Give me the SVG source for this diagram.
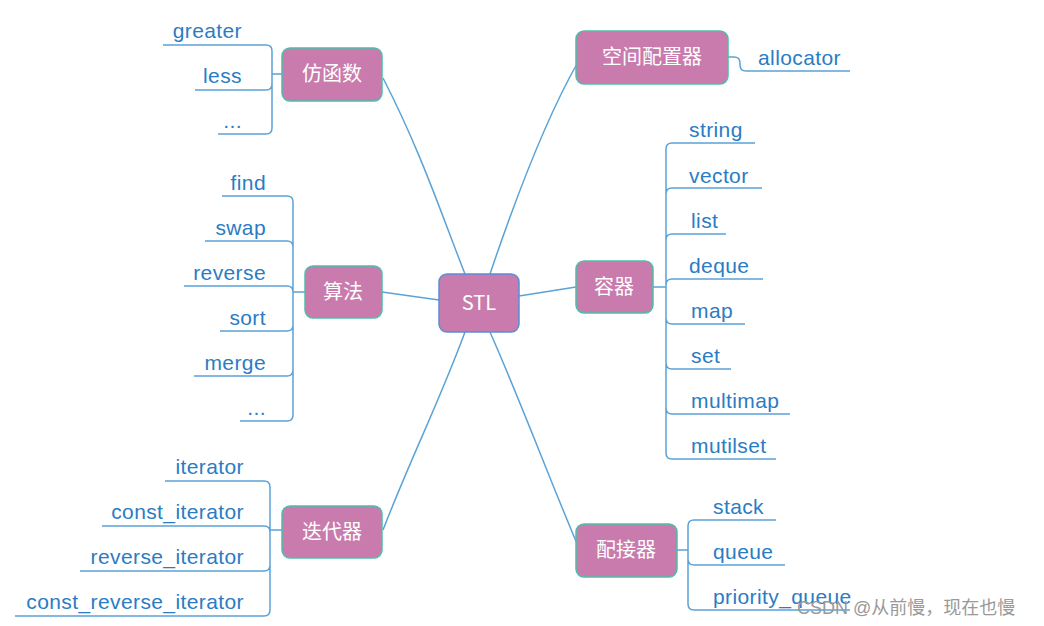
<svg xmlns="http://www.w3.org/2000/svg" width="1044" height="626" viewBox="0 0 1044 626">
<style>
.n rect{fill:#C97BAD;stroke:#4DBFA8;stroke-width:1.5}
.n text{fill:#fff;font-family:"Noto Sans CJK SC","Liberation Sans",sans-serif;font-size:20px;text-anchor:middle}
.c path{fill:none;stroke:#5BA3D6;stroke-width:1.5}
.l{fill:#2A7CC4;font-family:"Liberation Sans",sans-serif;font-size:21px;letter-spacing:0.4px}
.r{text-anchor:end}
</style>
<rect width="1044" height="626" fill="#fff"/>
<g class="c">
<path d="M465,274 C440,210 420,150 383,78"/>
<path d="M490,274 C515,200 545,120 578,62"/>
<path d="M439,300 L382,292"/>
<path d="M519,296 L576,287"/>
<path d="M465,332 C440,400 410,460 383,530"/>
<path d="M490,332 C520,400 550,480 578,546"/>
<path d="M282,74 H272 M163,45 H266 Q272,45 272,51 V128 Q272,134 266,134 H218 M195,90 H266 Q272,90 272,84"/>
<path d="M305,292 H293 M222,196 H287 Q293,196 293,202 V415 Q293,421 287,421 H240 M205,241 H287 Q293,241 293,247 M184,286 H287 Q293,286 293,292 M220,331 H287 Q293,331 293,325 M194,376 H287 Q293,376 293,370"/>
<path d="M282,530 H270 M165,481 H264 Q270,481 270,487 V610 Q270,616 264,616 H15 M102,526 H264 Q270,526 270,532 M80,571 H264 Q270,571 270,565"/>
<path d="M728,57 H734 Q740,57 740,63 V65 Q740,71 746,71 H850"/>
<path d="M653,287 H666 M755,143 H672 Q666,143 666,149 V453 Q666,459 672,459 H776 M762,188 H672 Q666,188 666,194 M726,234 H672 Q666,234 666,240 M763,279 H672 Q666,279 666,285 M745,324 H672 Q666,324 666,318 M731,369 H672 Q666,369 666,363 M790,414 H672 Q666,414 666,408"/>
<path d="M677,550 H688 M776,520 H694 Q688,520 688,526 V604 Q688,610 694,610 H850 M785,565 H694 Q688,565 688,559"/>
</g>
<g id="stl" class="n"><rect x="439" y="274" width="80" height="58" rx="8" style="stroke:#5B8FD6"/><text x="479" y="310">STL</text></g>
<g id="fanghanshu" class="n"><rect x="282" y="48" width="100" height="53" rx="8"/><text x="332" y="81">仿函数</text></g>
<g id="suanfa" class="n"><rect x="305" y="266" width="77" height="52" rx="8"/><text x="343" y="299">算法</text></g>
<g id="diedaiqi" class="n"><rect x="282" y="506" width="100" height="52" rx="8"/><text x="332" y="539">迭代器</text></g>
<g id="kongjian" class="n"><rect x="576" y="31" width="152" height="53" rx="8"/><text x="652" y="64">空间配置器</text></g>
<g id="rongqi" class="n"><rect x="576" y="261" width="77" height="52" rx="8"/><text x="614" y="294">容器</text></g>
<g id="peijieqi" class="n"><rect x="576" y="524" width="101" height="53" rx="8"/><text x="626" y="557">配接器</text></g>
<g id="leaves" class="l">
<text class="r" x="242" y="38">greater</text>
<text class="r" x="242" y="83">less</text>
<text class="r" x="242" y="128">...</text>
<text class="r" x="266" y="190">find</text>
<text class="r" x="266" y="235">swap</text>
<text class="r" x="266" y="280">reverse</text>
<text class="r" x="266" y="325">sort</text>
<text class="r" x="266" y="370">merge</text>
<text class="r" x="266" y="415">...</text>
<text class="r" x="244" y="474">iterator</text>
<text class="r" x="244" y="519">const_iterator</text>
<text class="r" x="244" y="564">reverse_iterator</text>
<text class="r" x="244" y="609">const_reverse_iterator</text>
<text x="758" y="65">allocator</text>
<text x="689" y="137">string</text>
<text x="689" y="183">vector</text>
<text x="691" y="228">list</text>
<text x="689" y="273">deque</text>
<text x="691" y="318">map</text>
<text x="691" y="363">set</text>
<text x="691" y="408">multimap</text>
<text x="691" y="453">mutilset</text>
<text x="713" y="514">stack</text>
<text x="713" y="559">queue</text>
<text x="713" y="604">priority_queue</text>
</g>
<text x="797" y="614" fill="#999" font-family="'Liberation Sans','Noto Sans CJK SC',sans-serif" font-size="18">CSDN @从前慢，现在也慢</text>
</svg>
